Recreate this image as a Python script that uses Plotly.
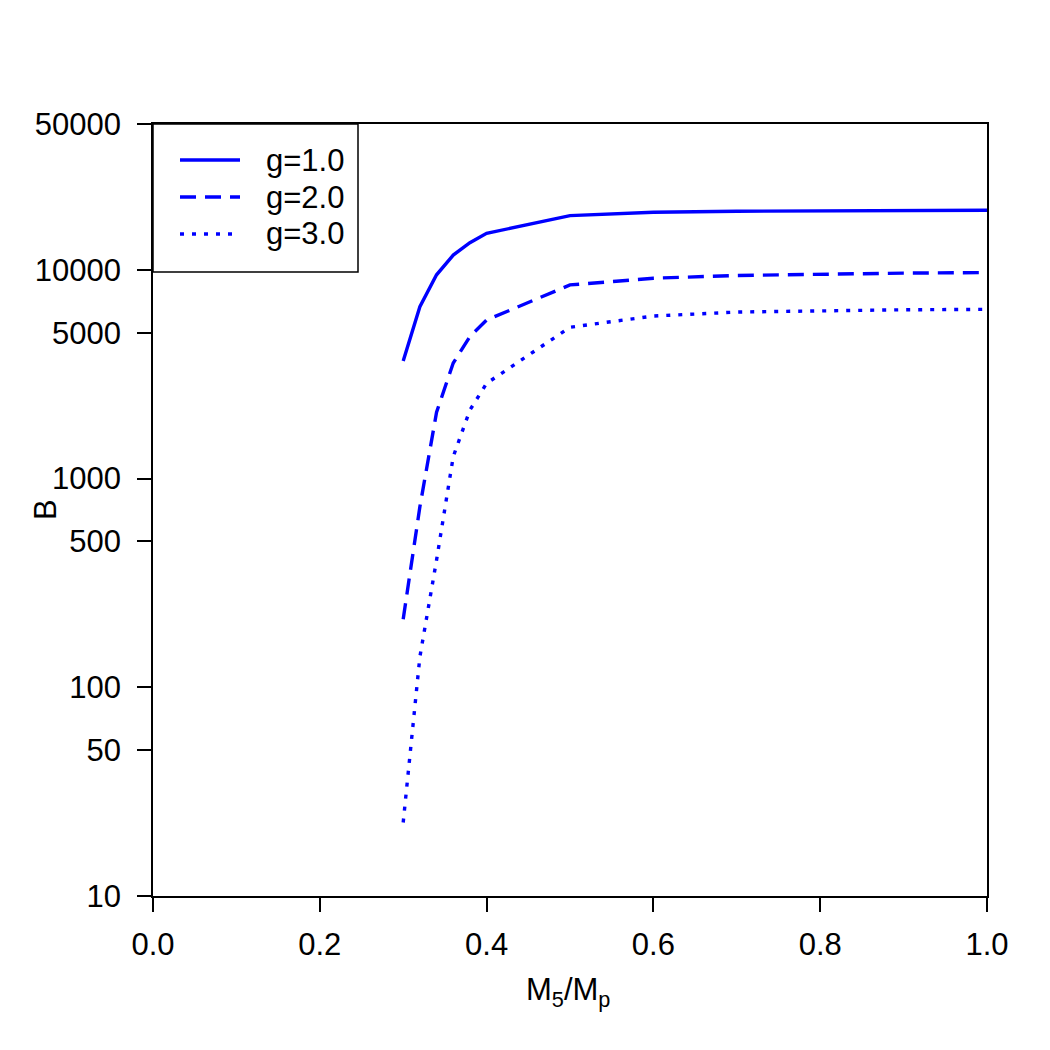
import plotly.graph_objects as go

x_vals = [0.30, 0.32, 0.34, 0.36, 0.38, 0.40, 0.50, 0.60, 0.70, 0.80, 0.90, 1.00]
b_g1 = [3660, 6660, 9470, 11770, 13500, 14960, 18200, 18900, 19100, 19200, 19250, 19300]
b_g2 = [212, 733, 2080, 3580, 4790, 5750, 8470, 9120, 9400, 9550, 9650, 9710]
b_g3 = [22.5, 140, 407, 1274, 2130, 2860, 5310, 6010, 6280, 6380, 6440, 6470]

series_names = ["g=1.0", "g=2.0", "g=3.0"]
series_vals = [b_g1, b_g2, b_g3]
dash_styles = ["solid", "16px,9px", "4px,8px"]

x_ticks = [0.0, 0.2, 0.4, 0.6, 0.8, 1.0]
x_ticktext = ["0.0", "0.2", "0.4", "0.6", "0.8", "1.0"]
y_ticks = [10, 50, 100, 500, 1000, 5000, 10000, 50000]
y_ticktext = ["10", "50", "100", "500", "1000", "5000", "10000", "50000"]

FONT = "Liberation Sans, Arial, sans-serif"
FS = 31
BLUE = "#0000ff"

fig = go.Figure()
for name, vals, d in zip(series_names, series_vals, dash_styles):
    fig.add_trace(go.Scatter(x=x_vals, y=vals, mode="lines", name=name,
                             line=dict(color=BLUE, width=3.4, dash=d),
                             showlegend=False))

# plot area in pixels
L, R, T, B = 153, 987, 124, 896
W, H = R - L, B - T

def px_x(p):
    return (p - L) / W

def px_y(p):
    return (B - p) / H

shapes = []
annotations = []
# legend box
shapes.append(dict(type="rect", xref="paper", yref="paper",
                   x0=px_x(L), x1=px_x(358), y0=px_y(272), y1=px_y(T),
                   line=dict(color="black", width=1.5), fillcolor="white", layer="above"))
for i, (name, d) in enumerate(zip(series_names, dash_styles)):
    yy = 160 + 37 * i
    shapes.append(dict(type="line", xref="paper", yref="paper",
                       x0=px_x(180), x1=px_x(240), y0=px_y(yy), y1=px_y(yy),
                       line=dict(color=BLUE, width=3.4, dash=d), layer="above"))
    annotations.append(dict(xref="paper", yref="paper", x=px_x(264), y=px_y(yy),
                            xanchor="left", yanchor="middle", text=name, showarrow=False,
                            font=dict(family=FONT, size=FS, color="black")))

annotations.append(dict(xref="paper", yref="paper", x=px_x(45), y=px_y(510),
                        xanchor="center", yanchor="middle", text="B", textangle=-90,
                        showarrow=False, font=dict(family=FONT, size=FS, color="black")))
annotations.append(dict(xref="paper", yref="paper", x=px_x(568), y=px_y(992),
                        xanchor="center", yanchor="middle", text="M<sub>5</sub>/M<sub>p</sub>",
                        showarrow=False, font=dict(family=FONT, size=FS, color="black")))

fig.update_layout(
    width=1050, height=1050,
    margin=dict(l=L, r=1050 - R, t=T, b=1050 - B),
    paper_bgcolor="white", plot_bgcolor="white",
    font=dict(family=FONT, size=FS, color="black"),
    shapes=shapes, annotations=annotations,
    xaxis=dict(range=[0, 1], tickvals=x_ticks, ticktext=x_ticktext,
               showgrid=False, zeroline=False, showline=True, mirror=True,
               linecolor="black", linewidth=1.5, ticks="outside", ticklen=14,
               tickwidth=1.5, tickcolor="black", ticklabelstandoff=6),
    yaxis=dict(type="log", range=[1, 4.69897], tickvals=y_ticks, ticktext=y_ticktext,
               showgrid=False, zeroline=False, showline=True, mirror=True,
               linecolor="black", linewidth=1.5, ticks="outside", ticklen=14,
               tickwidth=1.5, tickcolor="black", ticklabelstandoff=10),
)

fig.write_html("out.html")
